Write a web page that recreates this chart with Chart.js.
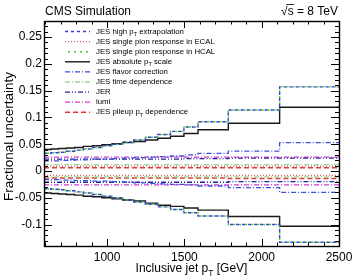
<!DOCTYPE html>
<html>
<head>
<meta charset="utf-8">
<script src="https://cdn.jsdelivr.net/npm/chart.js@4/dist/chart.umd.min.js"></script>
<style>
  html, body { margin: 0; padding: 0; background: #fff; }
</style>
</head>
<body>
<canvas id="c" width="354" height="279"></canvas>
<script>
// bin edges in GeV (last value of each series is repeated up to 2500)
var binEdges = [592, 638, 686, 737, 790, 846, 905, 967, 1032, 1101, 1172, 1248, 1327, 1410, 1497, 1588, 1784, 2116, 2500];

// upward / downward variations per bin
var highPtUp    = [0.033, 0.034, 0.035, 0.037, 0.039, 0.041, 0.044, 0.047, 0.050, 0.054, 0.058, 0.063, 0.068, 0.074, 0.082, 0.092, 0.114, 0.157];
var highPtDown  = [-0.033, -0.034, -0.035, -0.037, -0.039, -0.041, -0.044, -0.047, -0.050, -0.054, -0.058, -0.062, -0.067, -0.072, -0.078, -0.084, -0.100, -0.133];
var ecalUp      = [0.009, 0.009, 0.009, 0.009, 0.009, 0.009, 0.009, 0.009, 0.009, 0.009, 0.009, 0.009, 0.009, 0.009, 0.009, 0.009, 0.009, 0.009];
var ecalDown    = [-0.008, -0.008, -0.008, -0.008, -0.008, -0.008, -0.008, -0.008, -0.008, -0.008, -0.008, -0.008, -0.008, -0.008, -0.008, -0.008, -0.008, -0.008];
var hcalUp      = [0.033, 0.034, 0.035, 0.037, 0.039, 0.041, 0.044, 0.047, 0.050, 0.054, 0.058, 0.063, 0.068, 0.074, 0.082, 0.092, 0.114, 0.157];
var hcalDown    = [-0.033, -0.034, -0.035, -0.037, -0.039, -0.041, -0.044, -0.047, -0.050, -0.054, -0.058, -0.062, -0.067, -0.072, -0.078, -0.084, -0.100, -0.133];
var absUp       = [0.040, 0.041, 0.042, 0.043, 0.044, 0.046, 0.047, 0.049, 0.051, 0.053, 0.055, 0.058, 0.061, 0.065, 0.070, 0.077, 0.089, 0.119];
var absDown     = [-0.041, -0.042, -0.043, -0.044, -0.045, -0.047, -0.048, -0.050, -0.052, -0.054, -0.056, -0.060, -0.064, -0.066, -0.069, -0.073, -0.085, -0.103];
var flavorUp    = [0.019, 0.019, 0.020, 0.020, 0.021, 0.021, 0.022, 0.022, 0.023, 0.024, 0.025, 0.026, 0.027, 0.028, 0.030, 0.033, 0.037, 0.053];
var flavorDown  = [-0.016, -0.016, -0.017, -0.017, -0.018, -0.018, -0.019, -0.019, -0.020, -0.021, -0.022, -0.023, -0.024, -0.025, -0.026, -0.028, -0.031, -0.040];
var timeUp      = [0.012, 0.012, 0.012, 0.012, 0.012, 0.012, 0.012, 0.012, 0.012, 0.012, 0.012, 0.012, 0.012, 0.012, 0.012, 0.012, 0.012, 0.012];
var timeDown    = [-0.011, -0.011, -0.011, -0.011, -0.011, -0.011, -0.011, -0.011, -0.011, -0.011, -0.011, -0.011, -0.011, -0.011, -0.011, -0.011, -0.011, -0.011];
var jerUp       = [0.022, 0.022, 0.022, 0.022, 0.022, 0.022, 0.022, 0.022, 0.022, 0.022, 0.022, 0.022, 0.022, 0.022, 0.023, 0.023, 0.024, 0.024];
var jerDown     = [-0.021, -0.021, -0.021, -0.021, -0.021, -0.021, -0.021, -0.021, -0.021, -0.021, -0.021, -0.021, -0.021, -0.021, -0.021, -0.021, -0.020, -0.020];
var lumiUp      = [0.026, 0.026, 0.026, 0.026, 0.026, 0.026, 0.026, 0.026, 0.026, 0.026, 0.026, 0.026, 0.026, 0.026, 0.026, 0.026, 0.026, 0.026];
var lumiDown    = [-0.026, -0.026, -0.026, -0.026, -0.026, -0.026, -0.026, -0.026, -0.026, -0.026, -0.026, -0.026, -0.026, -0.026, -0.026, -0.026, -0.026, -0.026];
var pileupUp    = [0.006, 0.006, 0.006, 0.006, 0.006, 0.006, 0.006, 0.006, 0.006, 0.006, 0.006, 0.006, 0.006, 0.006, 0.006, 0.006, 0.006, 0.006];
var pileupDown  = [-0.013, -0.013, -0.013, -0.013, -0.013, -0.013, -0.013, -0.013, -0.013, -0.013, -0.013, -0.013, -0.013, -0.013, -0.013, -0.013, -0.014, -0.014];

var xMin = 592, xMax = 2500, yMin = -0.14, yMax = 0.28;
var xLabelTicks = [1000, 1500, 2000, 2500];

var FONT = '"Liberation Sans", Arial, Helvetica, sans-serif';

// one entry per source (legend order)
var sources = [
  { label: 'JES high p_{T} extrapolation',         up: highPtUp, down: highPtDown, color: '#3a3acf', dash: [3, 3],             off: 0, width: 1.4 },
  { label: 'JES single pion response in ECAL',     up: ecalUp,   down: ecalDown,   color: '#e05a60', dash: [1, 2],             off: 0, width: 1.2 },
  { label: 'JES single pion response in HCAL',     up: hcalUp,   down: hcalDown,   color: '#3ccc3c', dash: [2, 4],             off: 3, width: 1.4 },
  { label: 'JES absolute p_{T} scale',             up: absUp,    down: absDown,    color: '#1a1a1a', dash: [],                 off: 0, width: 1.4 },
  { label: 'JES flavor correction',                up: flavorUp, down: flavorDown, color: '#3d4ed8', dash: [5, 2, 1, 2],       off: 0, width: 1.3 },
  { label: 'JES time dependence',                  up: timeUp,   down: timeDown,   color: '#9ad890', dash: [5, 2, 1, 2],       off: 0, width: 1.3 },
  { label: 'JER',                                  up: jerUp,    down: jerDown,    color: '#22229a', dash: [5, 2, 1, 2, 1, 2], off: 0, width: 1.3 },
  { label: 'lumi',                                 up: lumiUp,   down: lumiDown,   color: '#d43cd4', dash: [5, 2, 1, 2],       off: 0, width: 1.3 },
  { label: 'JES pileup p_{T} dependence',          up: pileupUp, down: pileupDown, color: '#e03a3a', dash: [5, 3],             off: 0, width: 1.5 }
];

function toPoints(vals) {
  return binEdges.map(function (e, i) {
    return { x: e, y: vals[Math.min(i, vals.length - 1)] };
  });
}

var datasets = [];
sources.forEach(function (s) {
  [s.up, s.down].forEach(function (vals) {
    datasets.push({
      label: s.label,
      data: toPoints(vals),
      borderColor: s.color,
      borderDash: s.dash,
      borderDashOffset: s.off,
      borderWidth: s.width,
      stepped: 'before',
      pointRadius: 0,
      fill: false
    });
  });
});

// text with p_{T} subscripts
function richWidth(ctx, text, size) {
  var w = 0;
  text.split(/(p_\{T\})/).forEach(function (part) {
    if (part === 'p_{T}') {
      ctx.font = size + 'px ' + FONT; w += ctx.measureText('p').width;
      ctx.font = (size * 0.7) + 'px ' + FONT; w += ctx.measureText('T').width;
    } else {
      ctx.font = size + 'px ' + FONT; w += ctx.measureText(part).width;
    }
  });
  return w;
}
function drawRich(ctx, text, x, y, size) {
  ctx.textAlign = 'left';
  ctx.textBaseline = 'middle';
  text.split(/(p_\{T\})/).forEach(function (part) {
    if (part === 'p_{T}') {
      ctx.font = size + 'px ' + FONT; ctx.fillText('p', x, y); x += ctx.measureText('p').width;
      ctx.font = (size * 0.7) + 'px ' + FONT; ctx.fillText('T', x, y + size * 0.35); x += ctx.measureText('T').width;
    } else {
      ctx.font = size + 'px ' + FONT; ctx.fillText(part, x, y); x += ctx.measureText(part).width;
    }
  });
}

var overlay = {
  id: 'overlay',
  afterDraw: function (chart) {
    var ctx = chart.ctx, a = chart.chartArea, sx = chart.scales.x, sy = chart.scales.y;
    ctx.save();
    ctx.strokeStyle = '#000';
    ctx.lineWidth = 1;
    ctx.setLineDash([]);

    // inward ticks on all four sides
    ctx.beginPath();
    sx.ticks.forEach(function (t) {
      var px = Math.round(sx.getPixelForValue(t.value)) + 0.5;
      var l = t.label ? 7 : 3.5;
      ctx.moveTo(px, a.bottom); ctx.lineTo(px, a.bottom - l);
      ctx.moveTo(px, a.top); ctx.lineTo(px, a.top + l);
    });
    sy.ticks.forEach(function (t) {
      var py = Math.round(sy.getPixelForValue(t.value)) + 0.5;
      var l = t.label ? 8 : 4;
      ctx.moveTo(a.left, py); ctx.lineTo(a.left + l, py);
      ctx.moveTo(a.right, py); ctx.lineTo(a.right - l, py);
    });
    ctx.stroke();

    // frame
    ctx.lineWidth = 1.4;
    ctx.strokeRect(Math.round(a.left) + 0.5, Math.round(a.top) + 0.5, Math.round(a.right - a.left), Math.round(a.bottom - a.top));

    // legend
    sources.forEach(function (s, i) {
      var y = 31.5 + i * 10.1;
      ctx.beginPath();
      ctx.strokeStyle = s.color;
      ctx.lineWidth = s.width;
      ctx.setLineDash(s.dash);
      ctx.lineDashOffset = s.off;
      ctx.moveTo(65, y); ctx.lineTo(90, y);
      ctx.stroke();
      ctx.setLineDash([]);
      ctx.lineDashOffset = 0;
      ctx.fillStyle = '#000';
      drawRich(ctx, s.label, 96, y, 7.8);
    });

    // header texts
    ctx.fillStyle = '#000';
    ctx.font = '12px ' + FONT;
    ctx.textBaseline = 'alphabetic';
    ctx.textAlign = 'left';
    ctx.fillText('CMS Simulation', 45, 15);
    ctx.textAlign = 'right';
    ctx.fillText('\u221As = 8 TeV', 338, 15);
    // overline of the square root
    var wRest = ctx.measureText('s = 8 TeV').width;
    var wAll = ctx.measureText('\u221As = 8 TeV').width;
    ctx.beginPath();
    ctx.lineWidth = 0.8;
    ctx.strokeStyle = '#000';
    ctx.moveTo(338 - wAll + (wAll - wRest) * 0.8, 4.5);
    ctx.lineTo(338 - wRest + ctx.measureText('s').width + 0.5, 4.5);
    ctx.stroke();

    // axis titles
    var xt = 'Inclusive jet p_{T} [GeV]';
    var w = richWidth(ctx, xt, 12);
    ctx.fillStyle = '#000';
    drawRich(ctx, xt, (a.left + a.right) / 2 - w / 2, 269, 12);

    ctx.translate(9, (a.top + a.bottom) / 2 + 3);
    ctx.rotate(-Math.PI / 2);
    ctx.font = '13.5px ' + FONT;
    ctx.textAlign = 'center';
    ctx.textBaseline = 'middle';
    ctx.fillText('Fractional uncertainty', 0, 0);
    ctx.restore();
  }
};

new Chart(document.getElementById('c'), {
  type: 'line',
  data: { datasets: datasets },
  options: {
    responsive: false,
    devicePixelRatio: 1,
    animation: false,
    layout: { padding: { left: 0, right: 15, top: 21, bottom: 0 } },
    plugins: { legend: { display: false }, tooltip: { enabled: false } },
    scales: {
      x: {
        type: 'linear',
        min: xMin,
        max: xMax,
        afterBuildTicks: function (scale) {
          var t = [];
          for (var v = 600; v <= 2500; v += 100) t.push({ value: v });
          scale.ticks = t;
        },
        afterFit: function (scale) {
          scale.height = 33;
          scale.paddingLeft = 0;
          scale.paddingRight = 0;
        },
        grid: { display: false, drawTicks: false },
        border: { display: false },
        ticks: {
          autoSkip: false,
          maxRotation: 0,
          padding: 4,
          color: '#000',
          font: { family: FONT, size: 12 },
          callback: function (v) { return xLabelTicks.indexOf(v) >= 0 ? String(v) : ''; }
        }
      },
      y: {
        type: 'linear',
        min: yMin,
        max: yMax,
        afterBuildTicks: function (scale) {
          var t = [];
          for (var k = -14; k <= 28; k++) t.push({ value: k / 100 });
          scale.ticks = t;
        },
        afterFit: function (scale) {
          scale.width = 44;
          scale.paddingTop = 0;
          scale.paddingBottom = 0;
        },
        grid: { display: false, drawTicks: false },
        border: { display: false },
        ticks: {
          autoSkip: false,
          padding: 2,
          color: '#000',
          font: { family: FONT, size: 12 },
          callback: function (v) {
            var k = Math.round(v * 100);
            if (k % 5 !== 0) return '';
            return String(k / 100);
          }
        }
      }
    }
  },
  plugins: [overlay]
});
</script>
</body>
</html>
